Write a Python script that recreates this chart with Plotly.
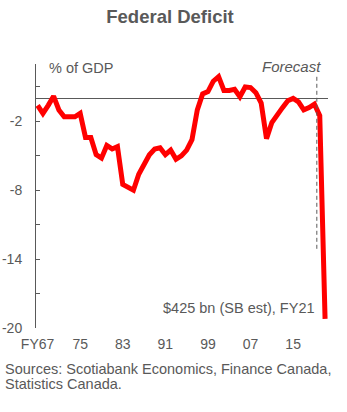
import plotly.graph_objects as go

# Federal budgetary balance, % of GDP, fiscal years FY1967 - FY2021
fiscal_years = list(range(1967, 2022))
balance_pct_gdp = [
    -0.6, -1.3, -0.6, 0.2, -1.0, -1.6, -1.6, -1.6, -1.3, -3.4,
    -3.4, -4.9, -5.2, -4.1, -4.4, -4.2, -7.5, -7.7, -8.0, -6.6,
    -5.7, -4.9, -4.4, -4.3, -4.9, -4.5, -5.3, -5.0, -4.5, -3.6,
    -1.0, 0.4, 0.6, 1.5, 1.9, 0.7, 0.7, 0.8, 0.15, 1.0,
    0.95, 0.5, -0.4, -3.5, -2.1, -1.4, -0.8, -0.2, 0.0, -0.3,
    -1.0, -0.8, -0.5, -1.5, -19.2,
]

x_tick_years = [1967, 1975, 1983, 1991, 1999, 2007, 2015]
x_tick_labels = ["FY67", "75", "83", "91", "99", "07", "15"]

y_tick_values = [-20, -17, -14, -11, -8, -5, -2, 1]
y_tick_labels = ["-20", "", "-14", "", "-8", "", "-2", ""]

forecast_start = 2019.45

GREY = "#595959"
FONT = "Liberation Sans, Arial, sans-serif"

fig = go.Figure()
fig.add_trace(go.Scatter(
    x=fiscal_years,
    y=balance_pct_gdp,
    mode="lines",
    line=dict(color="#FF0000", width=5),
    hoverinfo="x+y",
    showlegend=False,
))

# forecast divider
fig.add_shape(
    type="line", xref="x", yref="y",
    x0=forecast_start, x1=forecast_start, y0=-13.1, y1=2.0,
    line=dict(color=GREY, width=1, dash="4px,3px"),
)

fig.update_layout(
    width=347, height=412,
    margin=dict(l=36, r=19, t=64, b=84),
    paper_bgcolor="white", plot_bgcolor="white",
    font=dict(family=FONT, color=GREY, size=14),
    title=dict(
        text="<b>Federal Deficit</b>",
        x=170 / 347, xanchor="center",
        y=1 - 17 / 412, yanchor="middle",
        font=dict(size=18.5, color=GREY, family=FONT),
    ),
    xaxis=dict(
        range=[1966.7, 2021.55],
        tickmode="array", tickvals=x_tick_years, ticktext=x_tick_labels,
        showline=False, showgrid=False, zeroline=False, ticks="",
        tickfont=dict(size=14, color=GREY),
        ticklabelstandoff=6,
        automargin=False,
    ),
    yaxis=dict(
        range=[-20, 3],
        tickmode="array", tickvals=y_tick_values, ticktext=y_tick_labels,
        showline=True, linecolor=GREY, linewidth=1,
        ticks="inside", ticklen=4, tickcolor=GREY, tickwidth=1,
        showgrid=False,
        zeroline=True, zerolinecolor=GREY, zerolinewidth=1,
        tickfont=dict(size=14, color=GREY),
        ticklabelstandoff=10,
        automargin=False,
    ),
)

annotations = [
    dict(text="% of GDP", x=(46.7 - 36) / 292, y=(328 - 68) / 264,
         xanchor="left", yanchor="middle", font=dict(size=14.5)),
    dict(text="<i>Forecast</i>", x=(291.3 - 36) / 292, y=(328 - 66.7) / 264,
         xanchor="center", yanchor="middle", font=dict(size=15)),
    dict(text="$425 bn (SB est), FY21", x=(316.7 - 36) / 292, y=(328 - 308) / 264,
         xanchor="right", yanchor="middle", font=dict(size=14.5)),
    dict(text="Sources: Scotiabank Economics, Finance Canada,",
         x=(3 - 36) / 292, y=(328 - 368.5) / 264,
         xanchor="left", yanchor="middle", font=dict(size=14.5)),
    dict(text="Statistics Canada.",
         x=(3 - 36) / 292, y=(328 - 383.5) / 264,
         xanchor="left", yanchor="middle", font=dict(size=14.5)),
]
for a in annotations:
    fig.add_annotation(xref="paper", yref="paper", showarrow=False, **a)

fig.write_html("out.html")
